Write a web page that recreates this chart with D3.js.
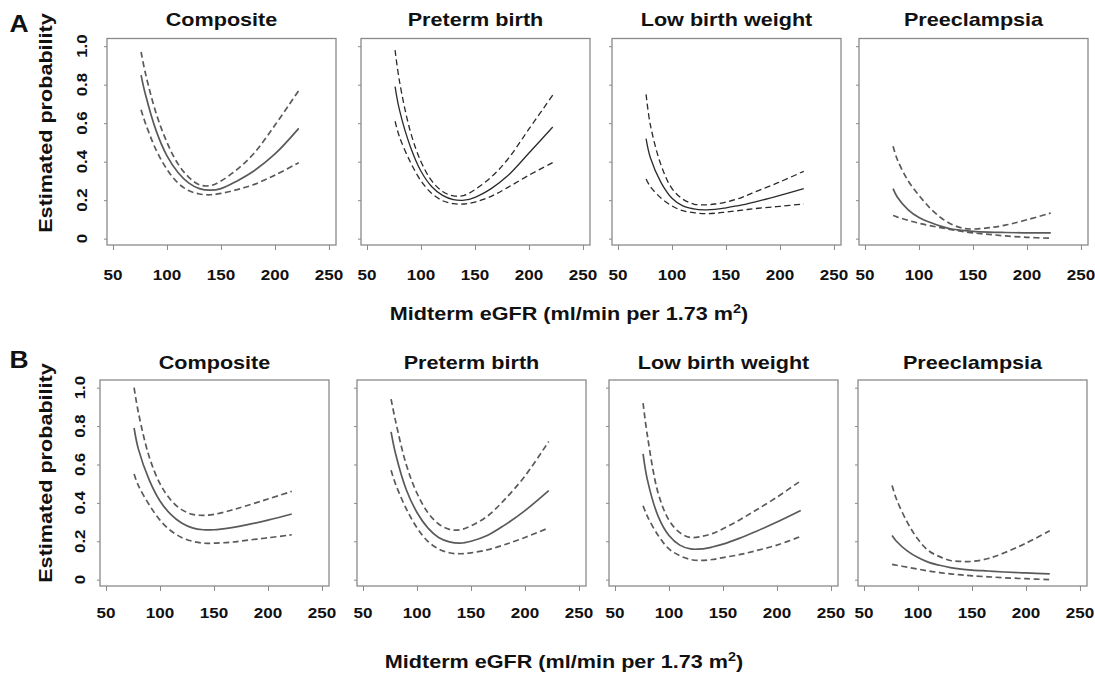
<!DOCTYPE html>
<html><head><meta charset="utf-8">
<script src="https://cdn.jsdelivr.net/npm/d3@7"></script>
<style>body{margin:0;background:#fff} svg{display:block}</style>
</head><body><svg id="c" width="1095" height="675"></svg>
<script>
// ---------- data ----------
const eGFR = [76, 80, 90, 100, 110, 120, 130, 140, 150, 165, 180, 200, 222];
const outcomes = ["Composite", "Preterm birth", "Low birth weight", "Preeclampsia"];
const rowLabels = ["A", "B"];
const xTicks = [50, 100, 150, 200, 250];
const yTicks = [0, 0.2, 0.4, 0.6, 0.8, 1.0];
const yTickLabels = ["0", "0.2", "0.4", "0.6", "0.8", "1.0"];
const yTitle = "Estimated probability";
const xTitleMain = "Midterm eGFR (ml/min per 1.73 m";
const xTitleSup = "2";
const xTitleEnd = ")";

// Row A
const aCompositeFit = [0.85, 0.75, 0.56, 0.43, 0.345, 0.29, 0.26, 0.252, 0.26, 0.30, 0.35, 0.44, 0.573];
const aCompositeHi  = [0.97, 0.86, 0.65, 0.50, 0.39, 0.32, 0.28, 0.275, 0.30, 0.36, 0.44, 0.59, 0.77];
const aCompositeLo  = [0.67, 0.60, 0.46, 0.36, 0.29, 0.25, 0.232, 0.228, 0.235, 0.255, 0.28, 0.33, 0.395];
const aPretermFit = [0.79, 0.67, 0.48, 0.35, 0.27, 0.225, 0.203, 0.20, 0.215, 0.26, 0.325, 0.445, 0.58];
const aPretermHi  = [0.98, 0.82, 0.56, 0.40, 0.30, 0.245, 0.222, 0.225, 0.255, 0.32, 0.41, 0.57, 0.746];
const aPretermLo  = [0.61, 0.53, 0.40, 0.30, 0.235, 0.197, 0.182, 0.18, 0.19, 0.22, 0.265, 0.33, 0.395];
const aLbwFit = [0.52, 0.42, 0.29, 0.21, 0.17, 0.155, 0.15, 0.152, 0.16, 0.175, 0.195, 0.225, 0.26];
const aLbwHi  = [0.75, 0.59, 0.38, 0.26, 0.205, 0.18, 0.175, 0.18, 0.19, 0.215, 0.25, 0.295, 0.35];
const aLbwLo  = [0.31, 0.27, 0.21, 0.17, 0.145, 0.135, 0.13, 0.132, 0.138, 0.148, 0.158, 0.168, 0.18];
const aPreeclFit = [0.26, 0.215, 0.15, 0.11, 0.085, 0.065, 0.05, 0.043, 0.038, 0.034, 0.032, 0.03, 0.03];
const aPreeclHi  = [0.48, 0.41, 0.30, 0.225, 0.16, 0.11, 0.075, 0.055, 0.05, 0.057, 0.07, 0.098, 0.133];
const aPreeclLo  = [0.12, 0.112, 0.095, 0.08, 0.068, 0.057, 0.047, 0.038, 0.03, 0.022, 0.014, 0.007, 0.002];

// Row B
const bCompositeFit = [0.79, 0.68, 0.52, 0.41, 0.34, 0.295, 0.27, 0.26, 0.26, 0.27, 0.285, 0.31, 0.342];
const bCompositeHi  = [1.00, 0.87, 0.64, 0.50, 0.415, 0.365, 0.34, 0.335, 0.34, 0.36, 0.385, 0.42, 0.46];
const bCompositeLo  = [0.55, 0.49, 0.39, 0.31, 0.255, 0.22, 0.20, 0.19, 0.19, 0.195, 0.205, 0.218, 0.234];
const bPretermFit = [0.77, 0.66, 0.47, 0.35, 0.27, 0.22, 0.197, 0.19, 0.20, 0.23, 0.28, 0.36, 0.464];
const bPretermHi  = [0.94, 0.83, 0.60, 0.45, 0.35, 0.29, 0.262, 0.26, 0.28, 0.33, 0.41, 0.54, 0.72];
const bPretermLo  = [0.57, 0.50, 0.37, 0.27, 0.20, 0.16, 0.14, 0.135, 0.14, 0.155, 0.18, 0.22, 0.27];
const bLbwFit = [0.655, 0.52, 0.33, 0.23, 0.18, 0.16, 0.16, 0.17, 0.185, 0.215, 0.25, 0.30, 0.36];
const bLbwHi  = [0.92, 0.75, 0.45, 0.31, 0.245, 0.22, 0.225, 0.24, 0.265, 0.31, 0.36, 0.43, 0.515];
const bLbwLo  = [0.385, 0.33, 0.23, 0.16, 0.125, 0.105, 0.10, 0.105, 0.115, 0.13, 0.15, 0.18, 0.225];
const bPreeclFit = [0.23, 0.20, 0.15, 0.115, 0.09, 0.075, 0.063, 0.055, 0.05, 0.045, 0.04, 0.035, 0.03];
const bPreeclHi  = [0.49, 0.42, 0.30, 0.21, 0.15, 0.12, 0.10, 0.095, 0.095, 0.11, 0.14, 0.19, 0.255];
const bPreeclLo  = [0.08, 0.075, 0.065, 0.055, 0.045, 0.037, 0.03, 0.025, 0.02, 0.015, 0.01, 0.005, 0.0];

const rowsData = [
  [[aCompositeFit, aCompositeHi, aCompositeLo], [aPretermFit, aPretermHi, aPretermLo],
   [aLbwFit, aLbwHi, aLbwLo], [aPreeclFit, aPreeclHi, aPreeclLo]],
  [[bCompositeFit, bCompositeHi, bCompositeLo], [bPretermFit, bPretermHi, bPretermLo],
   [bLbwFit, bLbwHi, bLbwLo], [bPreeclFit, bPreeclHi, bPreeclLo]]
];

// ---------- layout ----------
const svg = d3.select("#c");
const FONT = "'Liberation Sans', Arial, Helvetica, sans-serif";
const rows = [
  { top: 38.5, bottom: 245, lefts: [107, 361, 612, 859], titleY: 26, letterY: 32, tickY: 280, xTitleX: 569, xTitleY: 320, yTitleY: 123, yLabOff: 26 },
  { top: 380, bottom: 586, lefts: [100, 357, 609, 858], titleY: 369, letterY: 368, tickY: 618, xTitleX: 564, xTitleY: 668, yTitleY: 473, yLabOff: 21 }
];
const W = 229;
const boxColor = "#8a8a8a";

function stretchText(g, x, y, str, size, sx, rot) {
  const t = g.append("text")
    .attr("transform", `translate(${x},${y})` + (rot ? ` rotate(${rot})` : "") + ` scale(${sx},1)`)
    .attr("text-anchor", "middle")
    .attr("font-family", FONT)
    .attr("font-weight", "bold")
    .attr("font-size", size)
    .attr("fill", "#111");
  if (str !== null) t.text(str);
  return t;
}

// darker ink for two panels of row A
const darkPanels = { "0-1": true, "0-2": true };

rows.forEach((row, ri) => {
  const g = svg.append("g");
  // panel letter
  stretchText(g, 19, row.letterY, rowLabels[ri], 23, 1.15);
  // y-axis title
  stretchText(g, 52, row.yTitleY, yTitle, 18, 1.2, -90);
  // x-axis title
  const xt = stretchText(g, row.xTitleX, row.xTitleY, null, 18, 1.2);
  xt.append("tspan").text(xTitleMain);
  xt.append("tspan").attr("font-size", 12).attr("dy", -7).text(xTitleSup);
  xt.append("tspan").attr("dy", 7).text(xTitleEnd);

  row.lefts.forEach((left, pi) => {
    const x = d3.scaleLinear().domain([44.44, 256.5]).range([left, left + W]);
    const y = d3.scaleLinear().domain([-0.033, 1.04]).range([row.bottom, row.top]);
    const pg = g.append("g");

    // title
    stretchText(pg, left + W / 2, row.titleY, outcomes[pi], 18, 1.2);

    // x axis (ticks down from box bottom)
    const xa = pg.append("g").attr("transform", `translate(0,${row.bottom})`)
      .call(d3.axisBottom(x).tickValues(xTicks).tickSize(5).tickPadding(0).tickFormat(d3.format("d")));
    xa.select(".domain").remove();
    xa.selectAll("line").attr("stroke", boxColor).attr("stroke-width", 1);
    xa.selectAll("text").remove();
    xTicks.forEach(v => stretchText(pg, x(v), row.tickY, String(v), 15.5, 1.1));

    // y axis ticks
    const ya = pg.append("g").attr("transform", `translate(${left},0)`)
      .call(d3.axisLeft(y).tickValues(yTicks).tickSize(3).tickFormat(""));
    ya.select(".domain").remove();
    ya.selectAll("line").attr("stroke", boxColor).attr("stroke-width", 1);
    if (pi === 0) {
      yTicks.forEach((v, k) => {
        stretchText(pg, left - row.yLabOff, y(v), yTickLabels[k], 15.5, 1.08, -90).attr("dy", "0.36em");
      });
    }

    // box
    pg.append("rect").attr("x", left).attr("y", row.top).attr("width", W).attr("height", row.bottom - row.top)
      .attr("fill", "none").attr("stroke", boxColor).attr("stroke-width", 1.3);

    // curves
    const [fit, hi, lo] = rowsData[ri][pi];
    const dark = darkPanels[ri + "-" + pi];
    const col = dark ? "#2a2a2a" : "#5a5a5a";
    const sw = dark ? 1.3 : 1.7;
    const line = d3.line().x((d, i) => x(eGFR[i])).y(d => y(d)).curve(d3.curveCatmullRom.alpha(0.5));
    [[hi, true], [lo, true], [fit, false]].forEach(([arr, dashed]) => {
      pg.append("path").attr("d", line(arr)).attr("fill", "none")
        .attr("stroke", col).attr("stroke-width", sw)
        .attr("stroke-dasharray", dashed ? "6,3.5" : null);
    });
  });
});
</script>
</body></html>
